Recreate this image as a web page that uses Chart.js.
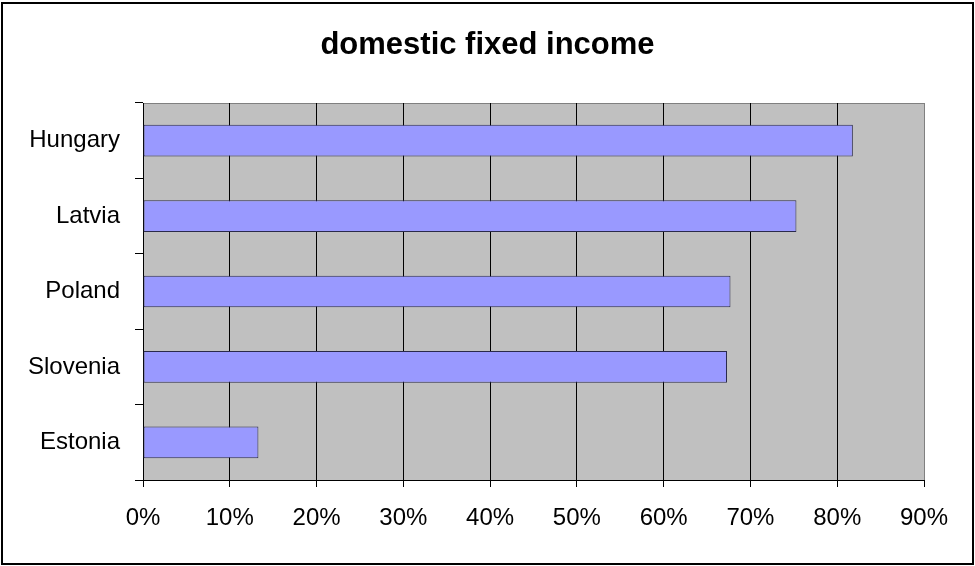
<!DOCTYPE html>
<html>
<head>
<meta charset="utf-8">
<script src="https://cdn.jsdelivr.net/npm/chart.js@4"></script>
<style>
    body { margin: 0; background: #fff; }
    #chart { display: block; }
</style>
</head>
<body>
<canvas id="chart" width="975" height="566"></canvas>
<script>
// Dados do gráfico
const countries = ['Hungary', 'Latvia', 'Poland', 'Slovenia', 'Estonia'];
const shares = [81.8, 75.3, 67.7, 67.3, 13.3];
const xTicks = [0, 10, 20, 30, 40, 50, 60, 70, 80, 90];
const chartTitle = 'domestic fixed income';

// Fundo cinza da área do gráfico, título centrado e borda externa
const frame = {
    id: 'frame',
    beforeDraw(chart) {
        const { ctx, chartArea: a } = chart;
        ctx.save();
        ctx.fillStyle = '#C0C0C0';
        ctx.fillRect(a.left, a.top, a.right - a.left, a.bottom - a.top);
        ctx.strokeStyle = '#808080';
        ctx.lineWidth = 1;
        ctx.strokeRect(a.left + 0.5, a.top + 0.5, a.right - a.left, a.bottom - a.top);
        ctx.restore();
    },
    afterDraw(chart) {
        const ctx = chart.ctx;
        ctx.save();
        ctx.fillStyle = '#000';
        ctx.font = 'bold 31px "Liberation Sans", Arial, sans-serif';
        ctx.textAlign = 'center';
        ctx.textBaseline = 'alphabetic';
        ctx.fillText(chartTitle, chart.width / 2, 54);
        ctx.strokeStyle = '#000';
        ctx.lineWidth = 2;
        ctx.strokeRect(2, 3, 971, 561);
        ctx.restore();
    }
};

new Chart(document.getElementById('chart'), {
    type: 'bar',
    data: {
        labels: countries,
        datasets: [{
            data: shares,
            backgroundColor: '#9999FF',
            borderColor: '#2a2a4a',
            borderWidth: 1,
            borderSkipped: false,
            barPercentage: 0.42,
            categoryPercentage: 1
        }]
    },
    options: {
        indexAxis: 'y',
        responsive: false,
        animation: false,
        layout: { padding: { left: 0, right: 51, top: 103, bottom: 0 } },
        plugins: {
            legend: { display: false },
            tooltip: { enabled: false },
            title: { display: false }
        },
        scales: {
            x: {
                min: 0,
                max: 90,
                afterBuildTicks(scale) {
                    scale.ticks = xTicks.map(v => ({ value: v }));
                },
                afterFit(scale) { scale.height = 86; },
                ticks: {
                    color: '#000',
                    padding: 17,
                    font: { family: 'Liberation Sans, Arial, sans-serif', size: 24 },
                    callback: v => v + '%'
                },
                grid: {
                    color: ctx => ctx.index === xTicks.length - 1 ? '#808080' : '#000',
                    lineWidth: 1,
                    tickLength: 7,
                    tickColor: '#000'
                },
                border: { color: '#000', width: 1 }
            },
            y: {
                afterFit(scale) { scale.width = 143; },
                ticks: {
                    color: '#000',
                    padding: 15,
                    font: { family: 'Liberation Sans, Arial, sans-serif', size: 24 }
                },
                grid: {
                    drawOnChartArea: false,
                    tickLength: 8,
                    color: '#000'
                },
                border: { color: '#000', width: 1 }
            }
        }
    },
    plugins: [frame]
});
</script>
</body>
</html>
